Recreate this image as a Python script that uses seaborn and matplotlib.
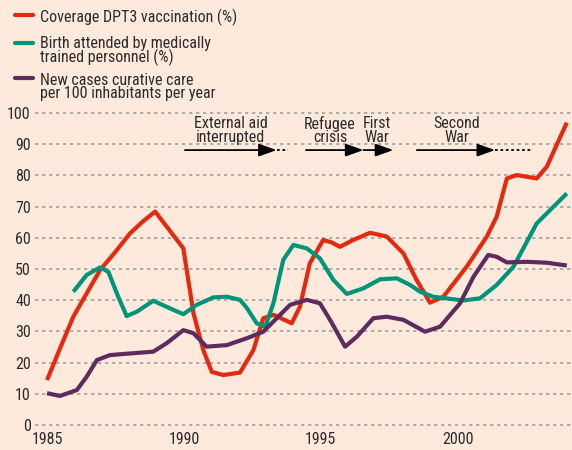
import matplotlib
matplotlib.use("Agg")
import matplotlib.pyplot as plt
from matplotlib import font_manager
from matplotlib.lines import Line2D
import seaborn as sns
import pandas as pd
import os

# ---- data ----
red_years = [1985.0, 1985.5, 1985.96, 1986.45, 1986.94, 1987.5, 1988.03, 1988.5, 1988.95,
             1989.98, 1990.35, 1990.71, 1991.02, 1991.44, 1992.05, 1992.54, 1992.9, 1993.27,
             1993.6, 1993.94, 1994.24, 1994.6, 1995.09, 1995.4, 1995.7, 1996.19, 1996.8, 1997.41,
             1998.02, 1998.5, 1998.99, 1999.48, 2000.33, 2001.07, 2001.43, 2001.8, 2002.16, 2002.89,
             2003.26, 2003.99]
red_vals = [14.4, 25.1, 34.7, 42.2, 49.7, 55.5, 61.4, 65.2, 68.4,
            56.6, 35.8, 24.0, 17.0, 16.0, 16.8, 24.0, 34.2, 35.3,
            34.0, 32.6, 37.9, 51.8, 59.3, 58.5, 57.1, 59.3, 61.6, 60.4,
            55.0, 46.5, 39.2, 41.1, 50.7, 60.4, 66.8, 79.0, 80.1, 79.0,
            82.8, 96.9]

green_years = [1985.96, 1986.45, 1986.94, 1987.24, 1987.6, 1987.91, 1988.28, 1988.88, 1989.49, 1989.98,
               1990.47, 1991.08, 1991.57, 1992.05, 1992.3, 1992.66, 1992.97, 1993.27, 1993.63, 1994.0,
               1994.49, 1994.97, 1995.46, 1995.95, 1996.56, 1997.17, 1997.78, 1998.26, 1998.63, 1999.11,
               2000.21, 2000.82, 2001.43, 2002.04, 2002.89, 2003.99]
green_vals = [42.7, 48.1, 50.5, 49.1, 41.1, 34.9, 36.3, 39.8, 37.4, 35.5,
              38.5, 40.9, 41.1, 40.1, 37.5, 32.6, 31.5, 39.0, 52.9, 57.7,
              56.6, 53.4, 46.5, 42.0, 43.8, 46.7, 47.0, 44.9, 42.7, 41.1,
              39.9, 40.6, 44.9, 50.7, 64.6, 74.2]

purple_years = [1985.0, 1985.47, 1986.09, 1986.45, 1986.82, 1987.3, 1988.15, 1988.88, 1989.37, 1989.98,
                1990.35, 1990.83, 1991.57, 1992.3, 1992.9, 1993.39, 1993.88, 1994.49, 1994.97, 1995.34,
                1995.89, 1996.32, 1996.92, 1997.41, 1998.02, 1998.81, 1999.36, 2000.09, 2000.58, 2001.12,
                2001.43, 2001.8, 2002.53, 2003.26, 2003.99]
purple_vals = [10.2, 9.3, 11.2, 15.5, 20.8, 22.4, 23.0, 23.5, 26.2, 30.4,
               29.4, 25.1, 25.6, 27.8, 29.9, 34.2, 38.5, 40.1, 39.0, 33.7,
               25.1, 28.3, 34.2, 34.7, 33.7, 29.9, 31.5, 39.0, 47.5, 54.5,
               53.9, 52.1, 52.3, 52.0, 51.1]

series_names = ["Coverage DPT3 vaccination (%)",
                "Birth attended by medically\ntrained personnel (%)",
                "New cases curative care\nper 100 inhabitants per year"]
y_ticks = [0, 10, 20, 30, 40, 50, 60, 70, 80, 90, 100]
x_ticks = [1985, 1990, 1995, 2000]

event_labels = ["External aid\ninterrupted", "Refugee\ncrisis", "First\nWar", "Second\nWar"]

# ---- font: look for a condensed sans ----
prefs = ["LiberationSansNarrow-Regular", "RobotoCondensed-Regular", "Roboto_Condensed-Regular",
         "NotoSans-Condensed.", "NotoSansCondensed-Regular", "DejaVuSansCondensed."]
entries = font_manager.fontManager.ttflist
chosen = None
for p in prefs:
    for f in entries:
        if p.lower() in os.path.basename(f.fname).lower():
            chosen = f
            break
    if chosen:
        break

sns.set_style("white")
if chosen is not None:
    plt.rcParams["font.family"] = [chosen.name, "DejaVu Sans"]
    plt.rcParams["font.stretch"] = chosen.stretch
    FS = 11.5
else:
    plt.rcParams["font.family"] = ["Liberation Sans", "DejaVu Sans"]
    FS = 10.5
BG = "#FDEADC"
TXT = "#2b2b2b"
colors = ["#E4290E", "#00957A", "#5E2B5F"]

df = pd.concat([
    pd.DataFrame({"year": red_years, "value": red_vals, "series": series_names[0]}),
    pd.DataFrame({"year": green_years, "value": green_vals, "series": series_names[1]}),
    pd.DataFrame({"year": purple_years, "value": purple_vals, "series": series_names[2]}),
])

fig = plt.figure(figsize=(5.72, 4.5), dpi=100, facecolor=BG)
ax = fig.add_axes([35 / 572, 21.9 / 450, 537 / 572, 324.5 / 450])
ax.set_facecolor(BG)

sns.lineplot(data=df, x="year", y="value", hue="series", palette=colors,
             estimator=None, sort=False, linewidth=3.0, legend=False, ax=ax,
             solid_capstyle="butt", solid_joinstyle="round")

ax.set_xlim(1984.56, 2004.18)
ax.set_ylim(-1, 103)
ax.set_yticks(y_ticks)
ax.set_xticks(x_ticks)
ax.set_xticklabels([str(t) for t in x_ticks])
ax.set_xlabel("")
ax.set_ylabel("")
ax.tick_params(axis="both", length=0, labelsize=FS, labelcolor=TXT)
ax.tick_params(axis="y", pad=3)
ax.tick_params(axis="x", pad=3)
for s in ax.spines.values():
    s.set_visible(False)
ax.grid(axis="y", linestyle=(0, (2, 2.2)), color="#a3a09d", linewidth=1.2)
ax.grid(axis="x", visible=False)
ax.set_axisbelow(True)

# ---- event annotations ----
arrow_y = 88.1
label_x = [1991.71, 1995.34, 1997.05, 1999.97]
arrows = [(1990.04, 1993.39, 1993.82), (1994.46, 1996.56, None),
          (1996.56, 1997.65, None), (1998.51, 2001.37, 2002.77)]
for label, xc, (x0, x1, xdot) in zip(event_labels, label_x, arrows):
    ax.text(xc, 94.4, label, ha="center", va="center", fontsize=FS, color=TXT,
            linespacing=0.9)
    ax.annotate("", xy=(x1, arrow_y), xytext=(x0, arrow_y),
                arrowprops=dict(arrowstyle="-|>,head_length=0.9,head_width=0.32",
                                color="black", lw=1.3, mutation_scale=12,
                                shrinkA=0, shrinkB=0))
    if xdot is not None:
        ax.plot([x1, xdot], [arrow_y, arrow_y], color="black", lw=1.3,
                linestyle=(0, (1.5, 1.5)))

# ---- legend (manual, top-left) ----
leg_items = [(15, 17), (43, 51), (78, 87)]
for (ly, ty), col, name in zip(leg_items, colors, series_names):
    fig.add_artist(Line2D([15 / 572, 33 / 572], [1 - ly / 450, 1 - ly / 450],
                          color=col, lw=3.0, transform=fig.transFigure))
    fig.text(40 / 572, 1 - ty / 450, name, ha="left", va="center", fontsize=FS,
             color=TXT, linespacing=0.9)

fig.savefig("out.png", dpi=100, facecolor=BG)
